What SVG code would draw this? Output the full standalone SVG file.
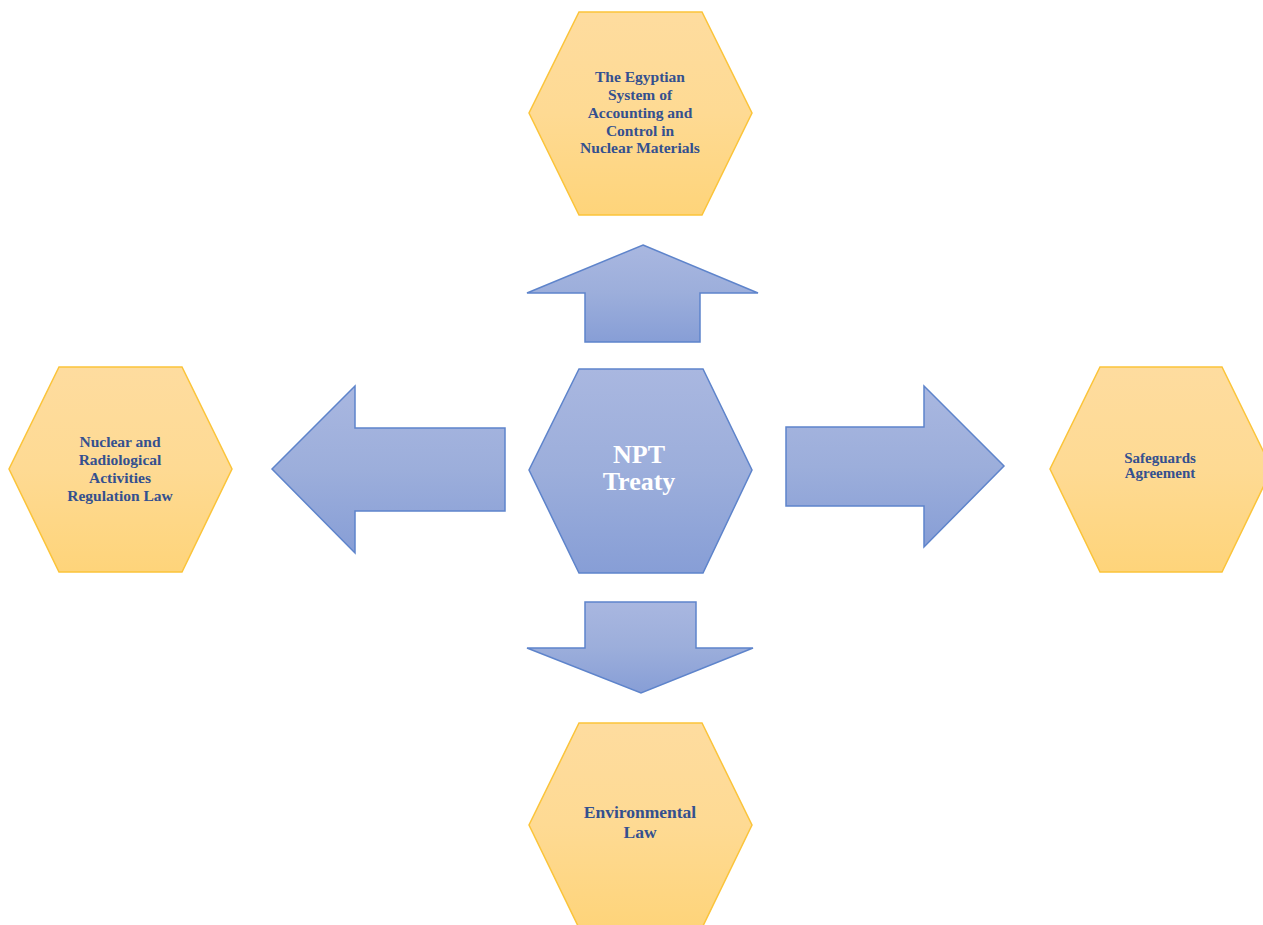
<svg xmlns="http://www.w3.org/2000/svg" width="1263" height="925" viewBox="0 0 1263 925">
<defs>
<linearGradient id="gold" x1="0" y1="0" x2="0" y2="1">
<stop offset="0" stop-color="#FEDC9F"/>
<stop offset="0.5" stop-color="#FEDA93"/>
<stop offset="1" stop-color="#FED47A"/>
</linearGradient>
<linearGradient id="blue" x1="0" y1="0" x2="0" y2="1">
<stop offset="0" stop-color="#A9B7E0"/>
<stop offset="0.5" stop-color="#9CAEDB"/>
<stop offset="1" stop-color="#879ED6"/>
</linearGradient>
<style>
.hex{fill:url(#gold);stroke:#FBC43A;stroke-width:1.5;stroke-linejoin:miter}
.core{fill:url(#blue);stroke:#5E84CB;stroke-width:1.5}
.arr{fill:url(#blue);stroke:#5E84CB;stroke-width:1.5;stroke-linejoin:miter}
.lbl{font-family:"Liberation Serif","Times New Roman",serif;font-weight:bold;fill:#34508F;text-anchor:middle}
.ctr{font-family:"Liberation Serif","Times New Roman",serif;font-weight:bold;fill:#FFFFFF;text-anchor:middle;font-size:26px}
</style>
</defs>
<rect width="1263" height="925" fill="#FFFFFF"/>
<g id="connectors">
<polygon id="arrow-up" class="arr" points="643,245 758,293 700,293 700,342 585,342 585,293 527,293"/>
<polygon id="arrow-down" class="arr" points="585,602 696,602 696,648 753,648 641,693 527,648 585,648"/>
<polygon id="arrow-left" class="arr" points="272,469 355,386 355,428 505,428 505,511 355,511 355,553"/>
<polygon id="arrow-right" class="arr" points="786,427 924,427 924,386 1004,466 924,547 924,506 786,506"/>
</g>
<g id="node-npt">
<polygon class="core" points="579,369 703,369 752,470 703,573 579,573 529,470"/>
<text class="ctr" x="639" y="463">NPT</text>
<text class="ctr" x="639" y="490">Treaty</text>
</g>
<g id="node-egyptian">
<polygon class="hex" points="579,12 702,12 752,113 702,215 579,215 529,113"/>
<text class="lbl" font-size="15.5" x="640" y="82">The Egyptian</text>
<text class="lbl" font-size="15.5" x="640" y="100">System of</text>
<text class="lbl" font-size="15.5" x="640" y="118">Accounting and</text>
<text class="lbl" font-size="15.5" x="640" y="135.5">Control in</text>
<text class="lbl" font-size="15.5" x="640" y="153">Nuclear Materials</text>
</g>
<g id="node-nuclear-law">
<polygon class="hex" points="59,367 182,367 232,469 182,572 59,572 9,469"/>
<text class="lbl" font-size="15.5" x="120" y="447">Nuclear and</text>
<text class="lbl" font-size="15.5" x="120" y="465">Radiological</text>
<text class="lbl" font-size="15.5" x="120" y="483">Activities</text>
<text class="lbl" font-size="15.5" x="120" y="501">Regulation Law</text>
</g>
<g id="node-safeguards">
<polygon class="hex" points="1100,367 1222,367 1272,469 1222,572 1100,572 1050,469"/>
<text class="lbl" font-size="15" x="1160" y="463">Safeguards</text>
<text class="lbl" font-size="15" x="1160" y="478">Agreement</text>
</g>
<g id="node-environmental">
<polygon class="hex" points="579,723 702,723 752,825 702,928 579,928 529,825"/>
<text class="lbl" font-size="17.5" x="640" y="818">Environmental</text>
<text class="lbl" font-size="17.5" x="640" y="838">Law</text>
</g>
</svg>
